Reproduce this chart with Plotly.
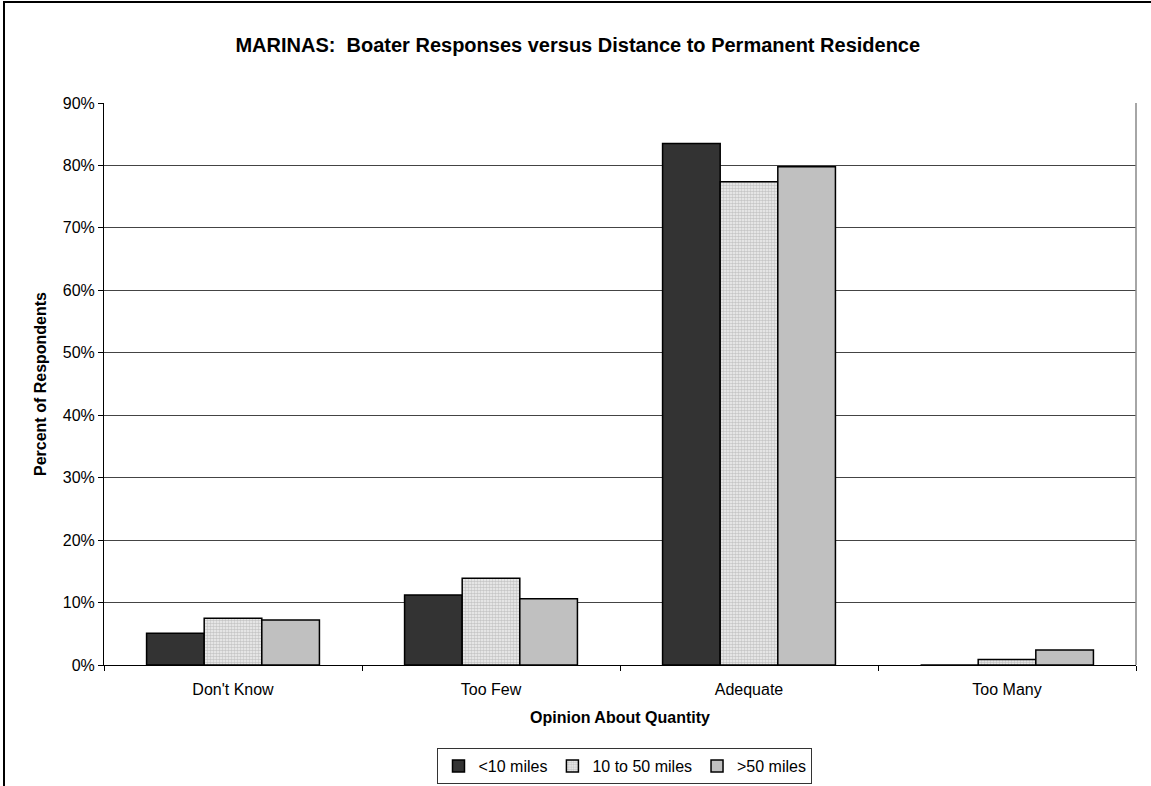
import plotly.graph_objects as go

categories = ["Don't Know", "Too Few", "Adequate", "Too Many"]
series_names = ["<10 miles", "10 to 50 miles", ">50 miles"]
lt10 = [5.1, 11.2, 83.5, 0.0]
mid = [7.5, 13.9, 77.4, 0.9]
gt50 = [7.2, 10.6, 79.8, 2.4]
y_ticks = [0, 10, 20, 30, 40, 50, 60, 70, 80, 90]
y_tick_labels = [f"{v}%" for v in y_ticks]

font = "Liberation Sans, Arial, sans-serif"

fig = go.Figure()
fig.add_trace(go.Bar(name=series_names[0], x=categories, y=lt10,
                     marker=dict(color="#333333", line=dict(color="black", width=1.5))))
fig.add_trace(go.Bar(name=series_names[1], x=categories, y=mid,
                     marker=dict(color="white", line=dict(color="black", width=1.5),
                                 pattern=dict(shape=".", fgcolor="#9a9a9a", bgcolor="#f2f2f2",
                                              size=3, solidity=0.6))))
fig.add_trace(go.Bar(name=series_names[2], x=categories, y=gt50,
                     marker=dict(color="#c0c0c0", line=dict(color="black", width=1.5))))

fig.update_layout(
    width=1151, height=786,
    margin=dict(l=104, r=15, t=103, b=121, autoexpand=False),
    paper_bgcolor="white", plot_bgcolor="white",
    barmode="group", bargap=0.33, bargroupgap=0,
    font=dict(family=font, size=16, color="black"),
    title=dict(text="<b>MARINAS:  Boater Responses versus Distance to Permanent Residence</b>",
               x=0.502, xanchor="center", y=1 - 45 / 786, yanchor="middle",
               font=dict(size=20, family=font)),
    showlegend=True,
    legend=dict(orientation="h", x=0.543, xanchor="center", xref="container",
                y=1 - 748 / 786, yanchor="top", yref="container",
                bordercolor="#333333", borderwidth=1, font=dict(size=16, family=font),
                itemwidth=30, tracegroupgap=0, traceorder="normal"),
    xaxis=dict(title=dict(text="<b>Opinion About Quantity</b>", font=dict(size=16), standoff=14),
               showline=True, linecolor="black", linewidth=1, automargin=False,
               ticks="outside", tickson="boundaries", ticklen=5, tickcolor="black",
               ticklabelstandoff=10, tickfont=dict(size=16)),
    yaxis=dict(title=dict(text="<b>Percent of Respondents</b>", font=dict(size=16), standoff=12),
               range=[0, 90], tickvals=y_ticks, ticktext=y_tick_labels, automargin=False,
               showline=True, linecolor="black", linewidth=1,
               ticks="outside", ticklen=5, tickcolor="black",
               showgrid=True, gridcolor="#444444", gridwidth=1,
               tickfont=dict(size=16), zeroline=False),
)

# outer chart border (left/top visible, rest cropped)
fig.add_shape(type="rect", xref="paper", yref="paper",
              x0=(4 - 104) / 1032, x1=1.2, y0=-0.5, y1=1 + (103 - 2) / 562,
              line=dict(color="black", width=2), layer="above")
# plot area right edge
fig.add_shape(type="line", xref="paper", yref="paper", x0=1, x1=1, y0=0, y1=1,
              line=dict(color="#888888", width=1.5))

fig.write_html("out.html", config={"displayModeBar": False},
               post_script="document.body.style.margin='0';")
